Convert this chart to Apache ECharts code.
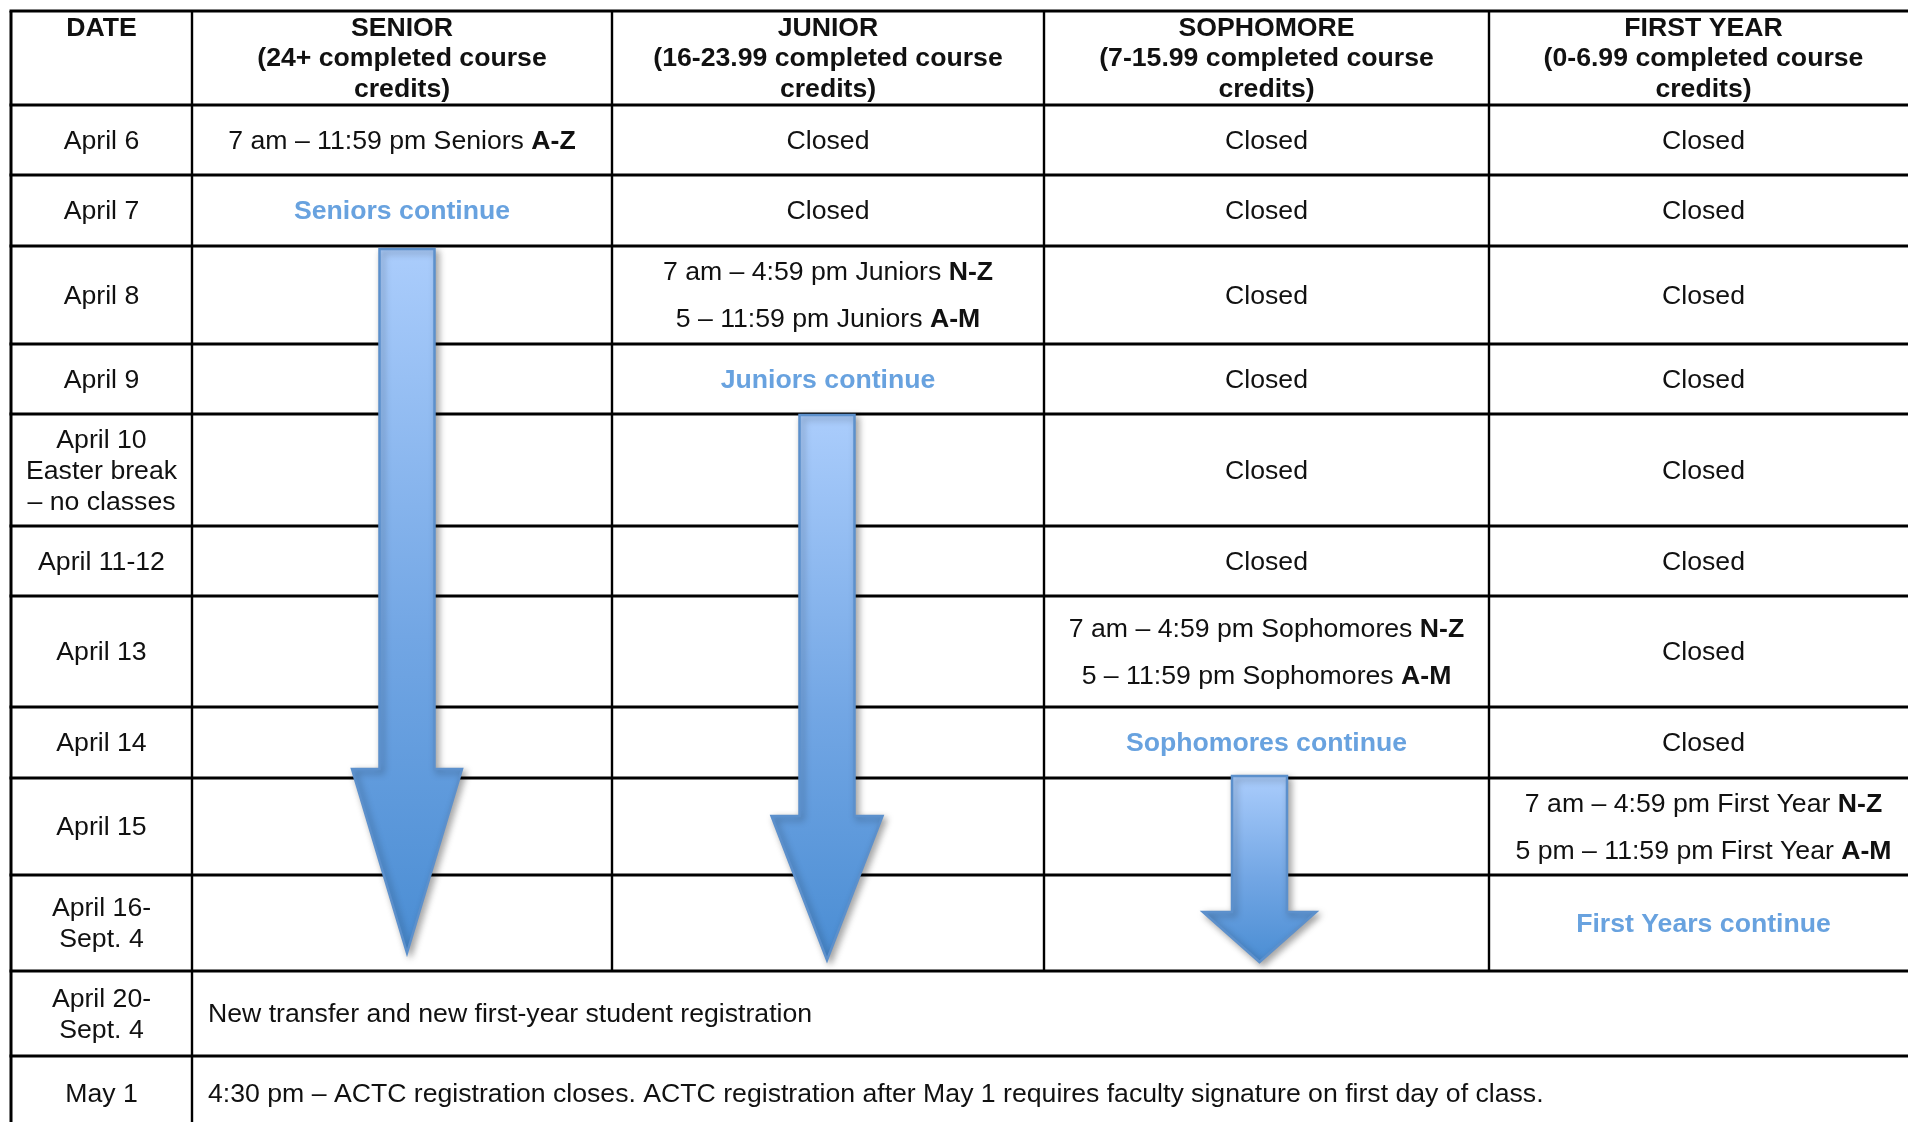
<!DOCTYPE html>
<html><head><meta charset="utf-8">
<script src="https://cdn.jsdelivr.net/npm/echarts@6/dist/echarts.min.js"></script>
<style>html,body{margin:0;padding:0;background:#fff}#c{width:1908px;height:1122px}</style>
</head><body><div id="c"></div>
<script>
// ---------------- DATA ----------------
const headers = [
  'DATE',
  'SENIOR\n(24+ completed course\ncredits)',
  'JUNIOR\n(16-23.99 completed course\ncredits)',
  'SOPHOMORE\n(7-15.99 completed course\ncredits)',
  'FIRST YEAR\n(0-6.99 completed course\ncredits)'
];
const dates = ['April 6', 'April 7', 'April 8', 'April 9', 'April 10\nEaster break\n– no classes',
  'April 11-12', 'April 13', 'April 14', 'April 15', 'April 16-\nSept. 4'];
const senior = ['7 am – 11:59 pm Seniors *A-Z*', 'Seniors continue', '', '', '', '', '', '', '', ''];
const junior = ['Closed', 'Closed', '7 am – 4:59 pm Juniors *N-Z*\n5 – 11:59 pm Juniors *A-M*',
  'Juniors continue', '', '', '', '', '', ''];
const sophomore = ['Closed', 'Closed', 'Closed', 'Closed', 'Closed', 'Closed',
  '7 am – 4:59 pm Sophomores *N-Z*\n5 – 11:59 pm Sophomores *A-M*', 'Sophomores continue', '', ''];
const firstYear = ['Closed', 'Closed', 'Closed', 'Closed', 'Closed', 'Closed', 'Closed', 'Closed',
  '7 am – 4:59 pm First Year *N-Z*\n5 pm – 11:59 pm First Year *A-M*', 'First Years continue'];
const noteDates = ['April 20-\nSept. 4', 'May 1'];
const noteTexts = ['New transfer and new first-year student registration',
  '4:30 pm – ACTC registration closes. ACTC registration after May 1 requires faculty signature on first day of class.'];
// arrows: class column (1..3), first body row and last body row covered (0-based body row index)
const arrowCols = [1, 2, 3];
const arrowFrom = [2, 4, 8];
const arrowTo = [9, 9, 9];

// ---------------- LAYOUT / STYLE ----------------
const colEdges = [11, 192, 612, 1044, 1489, 1918];
const rowEdges = [11, 105, 175, 246, 344, 414, 526, 596, 707, 778, 875, 971, 1056, 1130];
const arrowShape = [
  {pad: 3, head: 184, gap: 18, hw: 110, sw: 55, dx: 5},
  {pad: 1, head: 144, gap: 11, hw: 111, sw: 55, dx: -1},
  {pad: -2, head: 50, gap: 9, hw: 113, sw: 55, dx: -7}
];
const FONT = '"Liberation Sans", Arial, Helvetica, sans-serif';
const FS = 26.65;
const TY = 1.2;
const BLUE = '#68a2df';

// build cell list
const classCols = [senior, junior, sophomore, firstYear];
const cells = [];
headers.forEach((h, c) => cells.push({r: 0, c0: c, c1: c + 1, text: h, kind: 'head'}));
dates.forEach((d, i) => {
  cells.push({r: i + 1, c0: 0, c1: 1, text: d, kind: 'date'});
  classCols.forEach((col, k) => {
    const t = col[i];
    if (!t) return;
    cells.push({r: i + 1, c0: k + 1, c1: k + 2, text: t, kind: /continue$/.test(t) ? 'cont' : 'body'});
  });
});
noteDates.forEach((d, i) => {
  const r = dates.length + 1 + i;
  cells.push({r, c0: 0, c1: 1, text: d, kind: 'date'});
  cells.push({r, c0: 1, c1: colEdges.length - 1, text: noteTexts[i], kind: 'note'});
});

function toRich(t) { return t.replace(/\*([^*]+)\*/g, '{b|$1}'); }

// rules (lines)
const spanStartRow = dates.length + 1;
const rules = [];
rowEdges.slice(0, rowEdges.length - 1).forEach((y, i) => rules.push({h: true, i}));
colEdges.slice(0, colEdges.length - 1).forEach((x, i) => rules.push({h: false, i}));

const chart = echarts.init(document.getElementById('c'), null, {renderer: 'canvas'});
chart.setOption({
  animation: false,
  backgroundColor: '#ffffff',
  grid: {left: 0, right: 0, top: 0, bottom: 0},
  xAxis: {type: 'value', min: 0, max: 1908, show: false},
  yAxis: {type: 'value', min: 0, max: 1122, inverse: true, show: false},
  series: [
    {
      type: 'custom', name: 'rules', z: 2,
      data: rules.map((r, i) => [i]),
      renderItem: function (params, api) {
        const r = rules[params.dataIndex];
        if (r.h) {
          const y = rowEdges[r.i];
          const p0 = api.coord([colEdges[0] - 1.5, y]);
          const p1 = api.coord([1960, y]);
          return {type: 'line', shape: {x1: p0[0], y1: p0[1], x2: p1[0], y2: p1[1]},
            style: {stroke: '#000', lineWidth: 3}};
        }
        const x = colEdges[r.i];
        const yEnd = (r.i <= 1) ? 1140 : rowEdges[spanStartRow];
        const p0 = api.coord([x, rowEdges[0]]);
        const p1 = api.coord([x, yEnd]);
        return {type: 'line', shape: {x1: p0[0], y1: p0[1], x2: p1[0], y2: p1[1]},
          style: {stroke: '#000', lineWidth: (r.i === 0 ? 3 : 2.4)}};
      }
    },
    {
      type: 'custom', name: 'cells', z: 3,
      data: cells.map((c, i) => [i]),
      renderItem: function (params, api) {
        const c = cells[params.dataIndex];
        const tl = api.coord([colEdges[c.c0], rowEdges[c.r]]);
        const br = api.coord([colEdges[c.c1], rowEdges[c.r + 1]]);
        const cx = (tl[0] + br[0]) / 2, cy = (tl[1] + br[1]) / 2 + TY;
        const base = {fontFamily: FONT, fontSize: FS, fill: '#111'};
        let st, x = cx, y = cy;
        if (c.kind === 'head') {
          st = Object.assign(base, {text: c.text, fontWeight: 'bold', align: 'center', verticalAlign: 'top', lineHeight: 30.5});
          y = tl[1] + 1 + TY;
        } else if (c.kind === 'date') {
          st = Object.assign(base, {text: c.text, align: 'center', verticalAlign: 'middle', lineHeight: 31});
        } else if (c.kind === 'cont') {
          st = Object.assign(base, {text: c.text, fontWeight: 'bold', fill: BLUE, align: 'center', verticalAlign: 'middle'});
        } else if (c.kind === 'note') {
          st = Object.assign(base, {text: c.text, align: 'left', verticalAlign: 'middle', lineHeight: 31});
          x = tl[0] + 16;
        } else {
          st = Object.assign(base, {text: toRich(c.text), align: 'center', verticalAlign: 'middle', lineHeight: 47,
            rich: {b: {fontWeight: 'bold', fontFamily: FONT, fontSize: FS, fill: '#111', lineHeight: 47}}});
        }
        return {type: 'text', x: x, y: y, style: st};
      }
    },
    {
      type: 'custom', name: 'arrows', z: 4,
      data: arrowCols.map((c, i) => [i]),
      renderItem: function (params, api) {
        const i = params.dataIndex;
        const s = arrowShape[i];
        const col = arrowCols[i];
        const cxv = (colEdges[col] + colEdges[col + 1]) / 2 + s.dx;
        const top = rowEdges[arrowFrom[i] + 1] + s.pad;
        const tip = rowEdges[arrowTo[i] + 2] - s.gap;
        const hs = tip - s.head;
        const pts = [
          [cxv - s.sw / 2, top], [cxv + s.sw / 2, top], [cxv + s.sw / 2, hs], [cxv + s.hw / 2, hs],
          [cxv, tip], [cxv - s.hw / 2, hs], [cxv - s.sw / 2, hs]
        ].map(p => api.coord(p));
        return {
          type: 'polygon', shape: {points: pts},
          style: {
            fill: new echarts.graphic.LinearGradient(0, 0, 0, 1, [
              {offset: 0, color: '#abcdfc'},
              {offset: 0.55, color: '#72a6e4'},
              {offset: 1, color: '#4a8dd3'}
            ]),
            stroke: '#5c90cc', lineWidth: 2.5, lineJoin: 'miter',
            shadowBlur: 7, shadowOffsetX: 3, shadowOffsetY: 3, shadowColor: 'rgba(0,0,0,0.35)'
          }
        };
      }
    }
  ]
});
</script>
</body></html>
